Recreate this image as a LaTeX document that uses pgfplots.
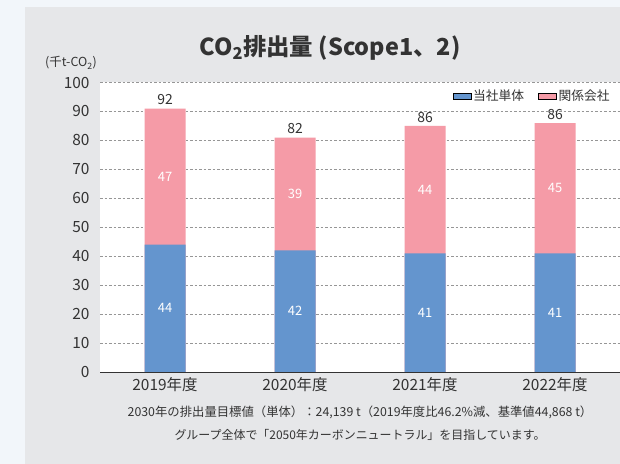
\documentclass[border=0pt]{standalone}
\usepackage{fontspec}
\setmainfont{Noto Sans CJK JP}
\usepackage{pgfplots}
\pgfplotsset{compat=1.18}
\definecolor{barblue}{RGB}{100,149,206}
\definecolor{barpink}{RGB}{245,155,167}
\definecolor{panel}{RGB}{230,231,233}
\definecolor{outer}{RGB}{242,246,250}
\definecolor{txt}{RGB}{51,51,51}
\definecolor{gridc}{RGB}{150,150,150}
\begin{document}
\begin{tikzpicture}
\fill[outer] (0bp,0bp) rectangle (620bp,464bp);
\fill[panel] (25bp,0bp) rectangle (620bp,457bp);
\begin{axis}[
  at={(100bp,92bp)}, anchor=south west,
  scale only axis, width=520bp, height=289.5bp,
  xmin=-0.5, xmax=3.5, ymin=0, ymax=100,
  axis background/.style={fill=white},
  axis x line*=bottom, axis y line*=left,
  y axis line style={draw=none},
  x axis line style={draw=txt, line width=0.9pt, -},
  ytick={0,10,...,100},
  xtick={0,1,2,3},
  xticklabels={2019年度,2020年度,2021年度,2022年度},
  tick style={draw=none},
  major tick length=0pt,
  ymajorgrids,
  grid style={gridc, line width=0.5pt, dash pattern=on 2.5bp off 2bp},
  /pgf/number format/assume math mode=true,
  yticklabel style={font=\fontsize{15.5}{15.5}\selectfont, text=txt, xshift=-7bp},
  xticklabel style={font=\fontsize{15.5}{15.5}\selectfont, text=txt, yshift=-2bp},
  legend style={at={(rel axis cs:0.99,0.953)}, anchor=east, draw=none, fill=none,
    font=\fontsize{12.8}{12.8}\selectfont, text=txt,
    /tikz/every even column/.append style={column sep=12bp}},
  legend columns=2,
  legend image code/.code={\fill[#1] (0bp,-3.3bp) rectangle (18bp,3.3bp);},
  clip=false,
]
\addlegendimage{fill=barblue}
\addlegendentry{当社単体}
\addlegendimage{fill=barpink}
\addlegendentry{関係会社}
% total bar (当社単体 + 関係会社)
\addplot[ybar, bar width=41bp, bar shift=0pt, fill=barpink, draw=none, forget plot]
  coordinates {(0,91) (1,81) (2,85) (3,86)};
% 当社単体
\addplot[ybar, bar width=41bp, bar shift=0pt, fill=barblue, draw=none, forget plot]
  coordinates {(0,44) (1,42) (2,41) (3,41)};
% labels inside blue
\addplot[draw=none, forget plot, nodes near coords, point meta=explicit symbolic,
  every node near coord/.style={anchor=center, text=white, font=\fontsize{13}{13}\selectfont}]
  coordinates {(0,22)[44] (1,21)[42] (2,20.5)[41] (3,20.5)[41]};
% labels inside pink
\addplot[draw=none, forget plot, nodes near coords, point meta=explicit symbolic,
  every node near coord/.style={anchor=center, text=white, font=\fontsize{13}{13}\selectfont}]
  coordinates {(0,67.5)[47] (1,61.5)[39] (2,63)[44] (3,63.5)[45]};
% totals
\addplot[draw=none, forget plot, nodes near coords, point meta=explicit symbolic,
  every node near coord/.style={anchor=south, text=txt, font=\fontsize{14}{14}\selectfont}]
  coordinates {(0,91)[92] (1,81)[82] (2,85)[86] (3,86)[86]};
\end{axis}
\node[text=txt, font=\fontsize{23.5}{23.5}\selectfont\bfseries] at (330bp,416bp) {CO\textsubscript{2}排出量 (Scope1、2)};
\node[text=txt, font=\fontsize{12.5}{12.5}\selectfont] at (71bp,401bp) {(千t-CO\textsubscript{2})};
\node[text=txt, font=\fontsize{12.4}{12.4}\selectfont] at (360bp,52bp) {2030年の排出量目標値（単体）：24,139 t（2019年度比46.2\%減、基準値44,868 t）};
\node[text=txt, font=\fontsize{12}{12}\selectfont] at (360bp,29bp) {グループ全体で「2050年カーボンニュートラル」を目指しています。};
\pgfresetboundingbox
\useasboundingbox (0bp,0bp) rectangle (620bp,464bp);
\end{tikzpicture}
\end{document}
